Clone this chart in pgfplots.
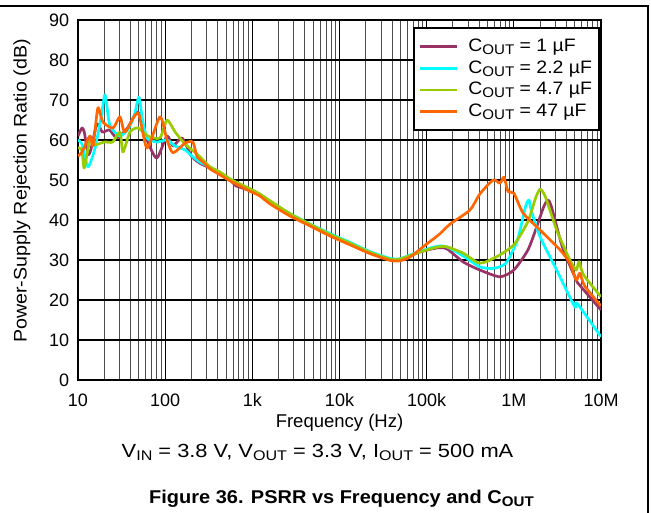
\documentclass[border=0pt]{standalone}
\usepackage{fontspec}
\setmainfont{Liberation Sans}
\newfontfamily\stretchA[FakeStretch=1.15]{Liberation Sans}
\newfontfamily\stretchB[FakeStretch=1.08]{Liberation Sans}
\usepackage{pgfplots}
\pgfplotsset{compat=1.18}
\newcommand\sub[1]{\raisebox{-0.3ex}{\fontsize{14bp}{14bp}\selectfont #1}}
\definecolor{cpurple}{RGB}{153,51,102}
\definecolor{ccyan}{RGB}{0,255,255}
\definecolor{cgreen}{RGB}{153,204,0}
\definecolor{corange}{RGB}{255,102,0}
\begin{document}
\fontsize{17bp}{20bp}\selectfont
\begin{tikzpicture}
\useasboundingbox (0,0) rectangle (651bp,513bp);
\draw[line width=1.5bp] (0,507bp) -- (648bp,507bp) -- (648bp,0);
\begin{axis}[
  at={(78bp,133bp)}, anchor=south west,
  scale only axis, width=523bp, height=360bp,
  xmode=log, xmin=10, xmax=1e7, ymin=0, ymax=90,
  xtick={10,100,1000,10000,100000,1000000,10000000},
  xticklabels={10,100,1k,10k,100k,1M,10M},
  minor xtick={20,30,40,50,60,70,80,90,200,300,400,500,600,700,800,900,2e3,3e3,4e3,5e3,6e3,7e3,8e3,9e3,2e4,3e4,4e4,5e4,6e4,7e4,8e4,9e4,2e5,3e5,4e5,5e5,6e5,7e5,8e5,9e5,2e6,3e6,4e6,5e6,6e6,7e6,8e6,9e6},
  ytick={0,10,...,90},
  grid=both,
  major grid style={black, line width=1.1bp},
  minor grid style={black!70, line width=0.9bp},
  axis line style={line width=2.5bp},
  major tick length=0pt, minor tick length=0pt,
  tick label style={font=\fontsize{18bp}{18bp}\selectfont},
  /pgf/number format/assume math mode=true,
  xticklabel style={yshift=-8bp},
  yticklabel style={xshift=-3bp},
  xlabel={Frequency (Hz)},
  ylabel={Power-Supply Rejection Ratio (dB)},
  xlabel style={at={(axis description cs:0.5,-0.119)}, anchor=center, font=\fontsize{18.5bp}{18.5bp}\selectfont},
  ylabel style={at={(axis description cs:-0.107,0.525)}, anchor=center, font=\stretchB\fontsize{18.2bp}{18.2bp}\selectfont},
  legend style={at={(0.998,0.98)}, anchor=north east, draw=black, line width=2bp, fill=white,
    font=\stretchB\fontsize{18bp}{18bp}\selectfont, row sep=2.5bp, inner xsep=5bp, inner ysep=9bp,
    /tikz/every odd column/.append style={column sep=8bp}},
  legend cell align=left,
  legend image code/.code={\draw[#1] (0bp,0bp) -- (37bp,0bp);},
  every axis plot/.append style={line width=2.7bp, smooth, tension=0.4, line join=round},
]
\addplot[cpurple] coordinates {(10,61) (11.1,63) (11.8,62) (13,56.5) (14,57.5) (16.5,64) (19,62) (23,62.5) (28,60.5) (37,63) (48.8,67) (62,60) (80,55.5) (105,61) (123,58.5) (156,60.5) (200,56) (250,54.2) (326,53) (425,51.5) (553,50) (650,48.5) (721,48.2) (940,47.3) (1220,46.2) (1600,44.3) (2700,41.3) (4600,38.7) (7800,36.2) (13200,34) (22400,31.8) (38000,30.2) (49000,30.1) (84000,32) (130000,33) (170000,32.8) (263000,29.5) (407000,27.5) (692000,25.8) (1e6,27.5) (1.45e6,32.5) (1.83e6,38.3) (2.2e6,43.3) (2.46e6,45) (2.7e6,43.3) (3.6e6,33.3) (5.2e6,25) (5.7e6,23.7) (1e7,17.5)};
\addlegendentry{C\sub{OUT} = 1 µF}
\addplot[ccyan] coordinates {(10,60) (11.1,59) (13,53.3) (15.7,58) (18.5,66) (20.4,71.3) (22.5,65) (24,63) (30,61) (37,62.5) (44,66) (50,70.7) (55,65) (62,60.5) (80,59.5) (105,60) (130,58.5) (170,57.5) (203,56) (250,54.5) (326,53.2) (425,51.8) (553,50.2) (721,48.9) (940,47.7) (1220,46.4) (1600,44.6) (2700,41.6) (4600,39) (7800,36.6) (13200,34.4) (22400,32.1) (38000,30.4) (49000,30.3) (84000,32.2) (130000,33.4) (170000,33.3) (263000,31) (407000,28.3) (580000,27.9) (810000,29.2) (1.1e6,35) (1.36e6,43.3) (1.49e6,45) (1.58e6,42.5) (2e6,35.8) (3.1e6,27.5) (5e6,18.3) (5.3e6,19.2) (1e7,10.8)};
\addlegendentry{C\sub{OUT} = 2.2 µF}
\addplot[cgreen] coordinates {(10,58) (11.1,57.5) (11.8,53) (13.7,60) (15.7,58.8) (20,59.5) (25,59.5) (30.3,62) (32.8,57) (39.5,62) (48.8,63) (63.5,61) (87,60.5) (105,65) (130,62) (169,59) (232,56.5) (272,55) (326,53.3) (425,52) (553,50.3) (721,49) (940,47.8) (1220,46.5) (1600,44.8) (2700,41.6) (4600,38.9) (7800,36.4) (13200,34.2) (22400,31.9) (38000,30.2) (49000,30.2) (84000,32) (130000,33.2) (170000,33.3) (263000,31.7) (407000,29.2) (633000,30.8) (1e6,33.8) (1.45e6,39.6) (1.77e6,45.4) (2e6,47.7) (2.3e6,45.8) (3.1e6,37.5) (4.4e6,30) (5.2e6,27.5) (5.6e6,29.6) (6.3e6,26.3) (1e7,20.8)};
\addlegendentry{C\sub{OUT} = 4.7 µF}
\addplot[corange] coordinates {(10,56) (11.1,57) (13.7,61) (14.9,58.5) (16.9,68) (19.3,64.5) (25.2,63) (30.3,65.8) (34.6,62) (48.8,66.8) (61.9,58) (87.2,65.8) (105,60) (123,56.8) (169,59.2) (208,59.5) (232,55.8) (272,54.5) (326,52.8) (425,51.3) (553,49.8) (721,48.5) (940,47.2) (1220,46) (1600,44) (2700,41) (4600,38.5) (7800,36) (13200,33.8) (22400,31.6) (38000,29.9) (49000,29.8) (64000,30.7) (100000,34) (141000,36.5) (186000,39) (314000,42.5) (407000,46.5) (580000,50) (692000,49.2) (771000,50.7) (860000,47.1) (1e6,46.7) (1.28e6,41.7) (2e6,37.5) (3.4e6,32.5) (4.4e6,29.2) (5.2e6,25) (5.7e6,26.7) (6.5e6,23.5) (1e7,18.5)};
\addlegendentry{C\sub{OUT} = 47 µF}
\end{axis}
\node[font=\stretchA\fontsize{19bp}{19bp}\selectfont] at (317.5bp,61bp) {V\sub{IN} = 3.8 V, V\sub{OUT} = 3.3 V, I\sub{OUT} = 500 mA};
\node[font=\stretchB\bfseries\fontsize{18.5bp}{18.5bp}\selectfont] at (341.5bp,14.5bp) {Figure 36. PSRR vs Frequency and C\sub{OUT}};
\end{tikzpicture}
\end{document}
